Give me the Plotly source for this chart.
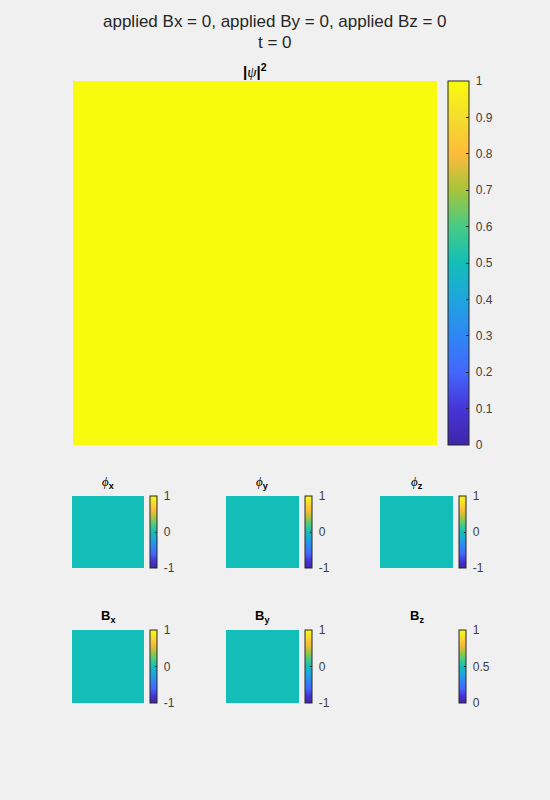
import plotly.graph_objects as go

# ---- data ----
psi_sq = [[1, 1, 1], [1, 1, 1], [1, 1, 1]]
phi_x = [[0, 0, 0], [0, 0, 0], [0, 0, 0]]
phi_y = [[0, 0, 0], [0, 0, 0], [0, 0, 0]]
phi_z = [[0, 0, 0], [0, 0, 0], [0, 0, 0]]
B_x = [[0, 0, 0], [0, 0, 0], [0, 0, 0]]
B_y = [[0, 0, 0], [0, 0, 0], [0, 0, 0]]
B_z = [[None, None, None], [None, None, None], [None, None, None]]

main_ticks = [0, 0.1, 0.2, 0.3, 0.4, 0.5, 0.6, 0.7, 0.8, 0.9, 1]
small_ticks = [-1, 0, 1]
bz_ticks = [0, 0.5, 1]

title_lines = ["applied Bx = 0, applied By = 0, applied Bz = 0", "t = 0"]

parula = [
    [0.0, "#3E26A8"], [0.1, "#4635D7"], [0.2, "#4367FD"], [0.3, "#2F86F4"],
    [0.4, "#1FA5DE"], [0.5, "#13BEB8"], [0.6, "#47CB86"], [0.7, "#A6C43A"],
    [0.8, "#FDBB3A"], [0.9, "#F4DD2C"], [1.0, "#F9FB0E"],
]

W, H = 550, 800
def px(x): return x / W
def py(y): return 1 - y / H

fig = go.Figure()
TXT = "#262626"
FONT = "Liberation Sans, Arial, sans-serif"
NB = "\u00a0"

PSI = "<span style=\"font-family:'Liberation Serif', serif\"><i>ψ</i></span>"
PHI = "<span style=\"font-family:'Liberation Serif', serif\"><i>ϕ</i></span>"

# panels: (z, zmin, zmax, ticks, x0, x1, y0, y1, cbx, cbw, title)
panels = [
    (psi_sq, 0, 1, main_ticks, 73, 437, 81, 445, 448, 21, f"<b>|</b>{PSI}<b>|</b><sup><b>2</b></sup>"),
    (phi_x, -1, 1, small_ticks, 72, 144, 496, 568, 150, 7, f"{PHI}<sub><b>x</b></sub>"),
    (phi_y, -1, 1, small_ticks, 226, 299, 496, 568, 305, 7, f"{PHI}<sub><b>y</b></sub>"),
    (phi_z, -1, 1, small_ticks, 380, 453, 496, 568, 459, 7, f"{PHI}<sub><b>z</b></sub>"),
    (B_x, -1, 1, small_ticks, 72, 144, 630, 703, 150, 7, "<b>B</b><sub><b>x</b></sub>"),
    (B_y, -1, 1, small_ticks, 226, 299, 630, 703, 305, 7, "<b>B</b><sub><b>y</b></sub>"),
    (B_z, 0, 1, bz_ticks, 380, 453, 630, 703, 459, 7, "<b>B</b><sub><b>z</b></sub>"),
]

for i, (z, zmin, zmax, ticks, x0, x1, y0, y1, cbx, cbw, title) in enumerate(panels):
    n = i + 1
    xa = "x" if n == 1 else f"x{n}"
    ya = "y" if n == 1 else f"y{n}"
    big = n == 1
    cb = dict(
        x=px(cbx), xanchor="left", xpad=0, ypad=0,
        y=py((y0 + y1) / 2), yanchor="middle",
        thickness=cbw, thicknessmode="pixels",
        len=(y1 - y0), lenmode="pixels",
        tickvals=ticks, ticktext=[NB + f"{t:g}" for t in ticks],
        ticks="inside", ticklen=3 if big else 2, tickcolor=TXT,
        outlinecolor=TXT, outlinewidth=1,
        tickfont=dict(family=FONT, size=12, color="#404040"),
    )
    fig.add_trace(go.Heatmap(
        z=z, zmin=zmin, zmax=zmax, colorscale=parula, colorbar=cb,
        xaxis=xa, yaxis=ya, hoverinfo="skip",
    ))
    flat = [v for row in z for v in row]
    if all(v is None for v in flat):
        # empty image (all NaN): MATLAB still shows its colorbar
        fig.add_trace(go.Scatter(
            x=[None], y=[None], mode="markers", xaxis=xa, yaxis=ya,
            hoverinfo="skip",
            marker=dict(cmin=zmin, cmax=zmax, colorscale=parula,
                        showscale=True, colorbar=cb),
        ))
    axk = "xaxis" if n == 1 else f"xaxis{n}"
    ayk = "yaxis" if n == 1 else f"yaxis{n}"
    fig.layout[axk] = dict(domain=[px(x0), px(x1)], range=[-0.5, 2.5], visible=False,
                           anchor=ya)
    fig.layout[ayk] = dict(domain=[py(y1), py(y0)], range=[-0.5, 2.5], visible=False,
                           anchor=xa)
    fig.add_annotation(
        x=px((x0 + x1) / 2), y=py(y0 + 1 if big else y0 - 3), xref="paper", yref="paper",
        xanchor="center", yanchor="bottom", showarrow=False,
        text=title, font=dict(family=FONT, size=15 if big else 13, color="black"),
    )

fig.add_annotation(x=0.5, y=py(22), xref="paper", yref="paper", xanchor="center",
                   yanchor="middle", showarrow=False, text=title_lines[0],
                   font=dict(family=FONT, size=17, color=TXT))
fig.add_annotation(x=0.5, y=py(43), xref="paper", yref="paper", xanchor="center",
                   yanchor="middle", showarrow=False, text=title_lines[1],
                   font=dict(family=FONT, size=17, color=TXT))

fig.update_layout(
    width=W, height=H, margin=dict(l=0, r=0, t=0, b=0),
    paper_bgcolor="#F0F0F0", plot_bgcolor="#F0F0F0", showlegend=False,
)

fig.write_html("out.html")
